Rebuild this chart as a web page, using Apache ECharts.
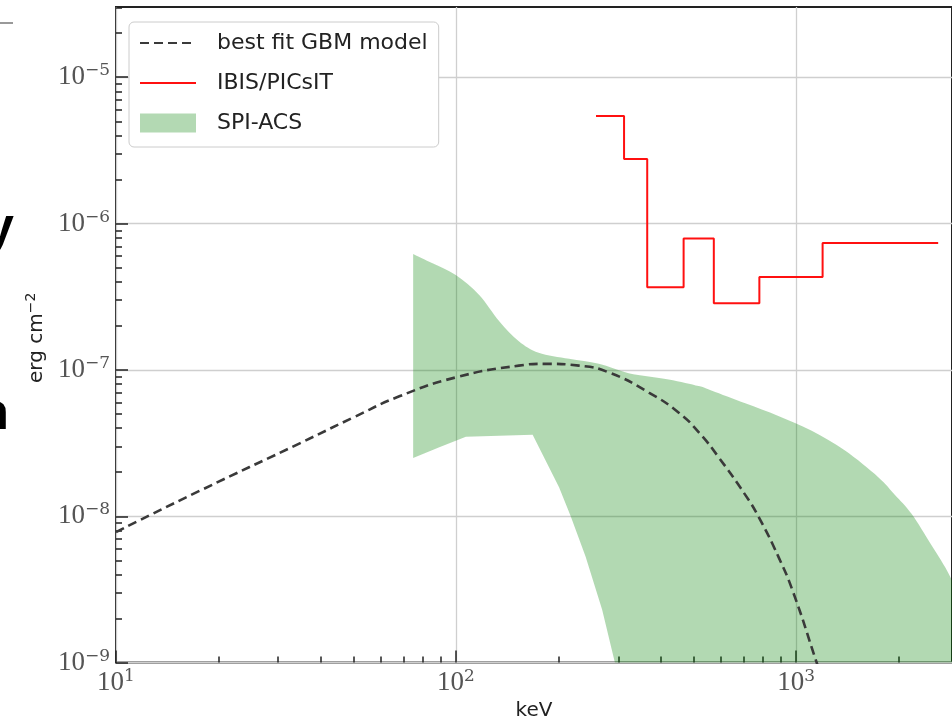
<!DOCTYPE html>
<html>
<head>
<meta charset="utf-8">
<script src="https://cdn.jsdelivr.net/npm/echarts@6/dist/echarts.min.js"></script>
<style>
html, body { margin: 0; padding: 0; background: #fff; }
#chart { width: 952px; height: 726px; }
</style>
</head>
<body>
<div id="chart"></div>
<script>
// best fit GBM model (keV, erg cm^-2)
var gbmKeV = [10, 17.6, 34.7, 49.6, 68.1, 100, 153, 182, 230, 282, 369, 452, 520, 592, 709, 776, 887, 982, 1150, 1250];
var gbmFlux = [7.8e-9, 1.49e-8, 3.15e-8, 4.7e-8, 6.6e-8, 8.9e-8, 1.07e-7, 1.1e-7, 1.07e-7, 9.6e-8, 7.0e-8, 5.1e-8, 3.7e-8, 2.53e-8, 1.4e-8, 9.9e-9, 5.3e-9, 3.0e-9, 1.0e-9, 5.6e-10];

// IBIS/PICsIT upper limits, one value per energy bin
var ibisEdges = [258, 312, 365, 467, 573, 780, 1197, 2618];
var ibisFlux = [5.43e-6, 2.76e-6, 3.67e-7, 7.9e-7, 2.86e-7, 4.32e-7, 7.38e-7];

// SPI-ACS band
var spiUpperKeV = [74.8, 85.3, 99.8, 117, 134, 153, 175, 215, 263, 322, 422, 517, 566, 709, 887, 1112, 1393, 1745, 1954, 2186, 2500, 2838, 3200];
var spiUpperFlux = [6.2e-7, 5.35e-7, 4.45e-7, 3.25e-7, 2.15e-7, 1.57e-7, 1.31e-7, 1.19e-7, 1.1e-7, 9.5e-8, 8.6e-8, 7.75e-8, 7.2e-8, 5.91e-8, 4.85e-8, 3.84e-8, 2.81e-8, 1.85e-8, 1.4e-8, 1.04e-8, 6.35e-9, 3.87e-9, 2.0e-9];
var spiLowerKeV = [74.8, 89.3, 106.9, 168, 200.9, 217.4, 240.4, 269, 292.6, 310];
var spiLowerFlux = [2.5e-8, 2.96e-8, 3.49e-8, 3.6e-8, 1.58e-8, 1.0e-8, 5.3e-9, 2.3e-9, 1.02e-9, 6e-10];
var bandFloor = 1e-10;

var xMajor = [10, 100, 1000];
var yMajor = [1e-9, 1e-8, 1e-7, 1e-6, 1e-5];
var xMin = 10, xMax = 2875;
var yMin = 1e-9, yMax = 3.02e-5;

function minorTicks(majors, top) {
    var out = [];
    for (var i = 0; i < majors.length; i++) {
        for (var k = 2; k <= 9; k++) {
            var v = majors[i] * k;
            if (v <= top) out.push(v);
        }
    }
    return out;
}

function powLabel(v) {
    var e = Math.round(Math.log10(v));
    if (Math.abs(Math.log10(v) - e) > 1e-6) return '';
    return '{b|10}{s|' + (e < 0 ? '\u2212' + (-e) : e) + '}';
}

// catmull-rom through pixel points -> bezier path commands
function smoothCmds(pts) {
    var d = '';
    for (var i = 0; i < pts.length - 1; i++) {
        var p0 = pts[i - 1] || pts[i], p1 = pts[i], p2 = pts[i + 1], p3 = pts[i + 2] || p2;
        var c1 = [p1[0] + (p2[0] - p0[0]) / 6, p1[1] + (p2[1] - p0[1]) / 6];
        var c2 = [p2[0] - (p3[0] - p1[0]) / 6, p2[1] - (p3[1] - p1[1]) / 6];
        d += ' C' + c1[0] + ',' + c1[1] + ' ' + c2[0] + ',' + c2[1] + ' ' + p2[0] + ',' + p2[1];
    }
    return d;
}

var labelRich = {
    b: { fontFamily: 'Liberation Serif', fontSize: 27, color: '#555', lineHeight: 30 },
    s: { fontFamily: 'DejaVu Serif', fontSize: 17, color: '#555', verticalAlign: 'top', lineHeight: 18 }
};

var ibisData = [];
for (var i = 0; i < ibisFlux.length; i++) ibisData.push([ibisEdges[i], ibisFlux[i]]);
ibisData.push([ibisEdges[ibisEdges.length - 1], ibisFlux[ibisFlux.length - 1]]);

var gbmData = gbmKeV.map(function (k, i) { return [k, gbmFlux[i]]; });

var tickStyle = { color: '#222', width: 1.5 };

var myChart = echarts.init(document.getElementById('chart'));
var option = {
    animation: false,
    backgroundColor: '#fff',
    grid: {
        left: 116,
        top: 7,
        right: -2,
        bottom: 60,
        show: true,
        borderColor: '#222',
        borderWidth: 2
    },
    legend: {
        left: 129,
        top: 22,
        orient: 'vertical',
        itemWidth: 56,
        itemHeight: 19,
        itemGap: 16,
        padding: [9, 11, 12, 10],
        backgroundColor: '#fff',
        borderColor: '#ccc',
        borderWidth: 1,
        borderRadius: 5,
        textStyle: {
            fontFamily: 'DejaVu Sans',
            fontSize: 22,
            color: '#222',
            lineHeight: 24,
            padding: [0, 0, 0, 16]
        },
        data: [
            { name: 'best fit GBM model', itemStyle: { opacity: 0 } },
            { name: 'IBIS/PICsIT', itemStyle: { opacity: 0 } },
            { name: 'SPI-ACS', icon: 'rect', itemStyle: { color: '#b3d9b3', opacity: 1 } }
        ]
    },
    xAxis: [{
        type: 'log',
        position: 'bottom',
        min: xMin,
        max: xMax,
        name: 'keV',
        nameLocation: 'middle',
        nameGap: 38,
        nameTextStyle: { fontFamily: 'DejaVu Sans', fontSize: 20, color: '#222' },
        axisLine: { show: false },
        axisTick: { inside: true, length: 12, customValues: xMajor, lineStyle: tickStyle },
        axisLabel: { customValues: xMajor, margin: 5, formatter: powLabel, rich: labelRich },
        splitLine: { show: true, lineStyle: { color: '#cfcfcf', width: 1.3 } }
    }, {
        type: 'log',
        position: 'bottom',
        min: xMin,
        max: xMax,
        axisLine: { show: false },
        axisTick: { inside: true, length: 6, customValues: minorTicks(xMajor, xMax), lineStyle: tickStyle },
        axisLabel: { show: false },
        splitLine: { show: false }
    }],
    yAxis: [{
        type: 'log',
        position: 'left',
        min: yMin,
        max: yMax,
        name: '{n|erg cm}{s|\u22122}',
        nameLocation: 'middle',
        nameGap: 49,
        nameRotate: 90,
        nameTextStyle: {
            padding: [0, 6, 0, 0],
            rich: {
                n: { fontFamily: 'DejaVu Sans', fontSize: 20, color: '#222', lineHeight: 26 },
                s: { fontFamily: 'DejaVu Sans', fontSize: 14, color: '#222', verticalAlign: 'top', lineHeight: 14 }
            }
        },
        axisLine: { show: false },
        axisTick: { inside: true, length: 12, customValues: yMajor, lineStyle: tickStyle },
        axisLabel: { customValues: yMajor, margin: 6, formatter: powLabel, rich: labelRich },
        splitLine: { show: true, lineStyle: { color: '#cfcfcf', width: 1.3 } }
    }, {
        type: 'log',
        position: 'left',
        min: yMin,
        max: yMax,
        axisLine: { show: false },
        axisTick: { inside: true, length: 6, customValues: minorTicks(yMajor, yMax), lineStyle: tickStyle },
        axisLabel: { show: false },
        splitLine: { show: false }
    }],
    series: [{
        name: 'SPI-ACS',
        type: 'custom',
        clip: true,
        itemStyle: { color: '#008000', opacity: 0.3 },
        data: [[spiUpperKeV[0], spiUpperFlux[0]]],
        encode: { x: 0, y: 1 },
        renderItem: function (params, api) {
            var up = [], lo = [];
            for (var i = 0; i < spiUpperKeV.length; i++) up.push(api.coord([spiUpperKeV[i], spiUpperFlux[i]]));
            for (var j = spiLowerKeV.length - 1; j >= 0; j--) lo.push(api.coord([spiLowerKeV[j], spiLowerFlux[j]]));
            var f1 = api.coord([spiUpperKeV[spiUpperKeV.length - 1], bandFloor]);
            var f2 = api.coord([spiLowerKeV[spiLowerKeV.length - 1], bandFloor]);
            var d = 'M' + up[0][0] + ',' + up[0][1] + smoothCmds(up);
            d += ' L' + f1[0] + ',' + f1[1] + ' L' + f2[0] + ',' + f2[1];
            for (var k = 0; k < lo.length; k++) d += ' L' + lo[k][0] + ',' + lo[k][1];
            d += ' Z';
            return {
                type: 'path',
                shape: { pathData: d },
                style: { fill: '#008000', opacity: 0.3 }
            };
        }
    }, {
        name: 'best fit GBM model',
        type: 'line',
        data: gbmData,
        symbol: 'none',
        smooth: 0.5,
        lineStyle: { color: '#3a3a3a', width: 2.6, type: [9, 5] },
        itemStyle: { color: '#3a3a3a' }
    }, {
        name: 'IBIS/PICsIT',
        type: 'line',
        data: ibisData,
        step: 'end',
        symbol: 'none',
        lineStyle: { color: '#ff1010', width: 2 },
        itemStyle: { color: '#ff1010' }
    }],
    graphic: [
        { type: 'line', shape: { x1: 0, y1: 23, x2: 13, y2: 23 }, style: { stroke: '#999', lineWidth: 2 } },
        { type: 'text', right: 938, top: 203, style: { text: 'y', font: 'bold 52px "Liberation Sans"', fill: '#000' } },
        { type: 'text', right: 943, top: 389, style: { text: 'n', font: 'bold 52px "Liberation Sans"', fill: '#000' } }
    ]
};
myChart.setOption(option);
</script>
</body>
</html>
